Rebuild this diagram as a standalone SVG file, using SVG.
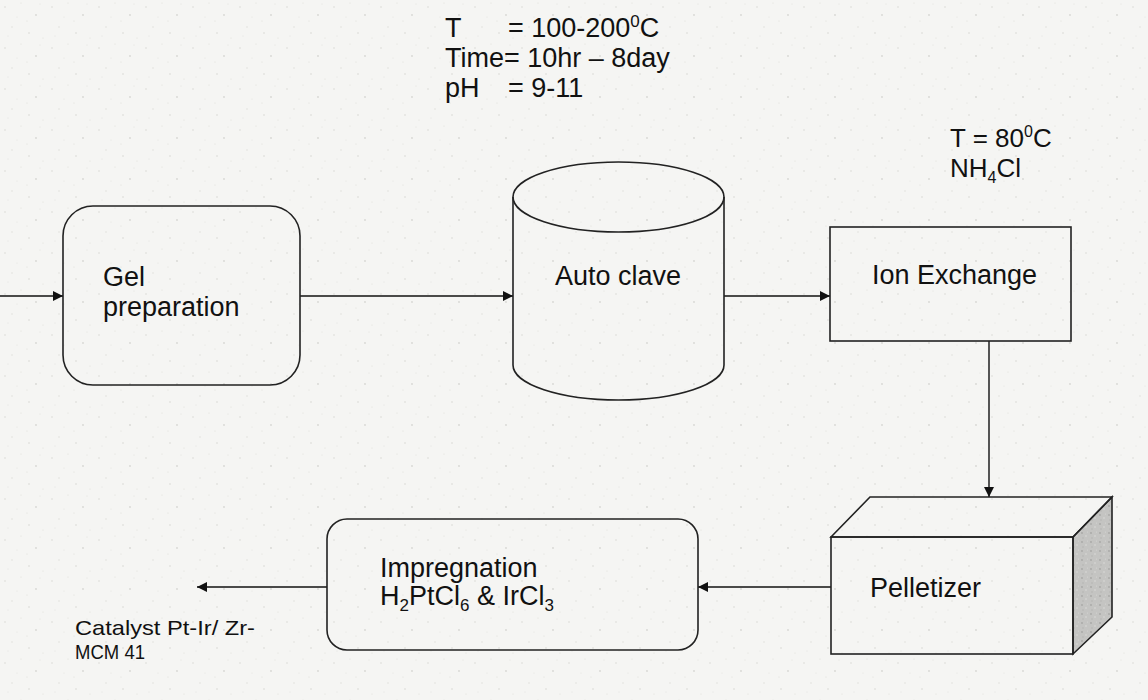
<svg xmlns="http://www.w3.org/2000/svg" width="1148" height="700" viewBox="0 0 1148 700">
  <defs>
    <pattern id="speck" width="47" height="41" patternUnits="userSpaceOnUse">
      <rect width="47" height="41" fill="#f5f5f3"/>
      <circle cx="5" cy="7" r="0.8" fill="#dadad6"/>
      <circle cx="21" cy="3" r="0.6" fill="#e0e0dc"/>
      <circle cx="36" cy="15" r="0.9" fill="#d8d8d4"/>
      <circle cx="12" cy="27" r="0.7" fill="#dcdcd8"/>
      <circle cx="29" cy="33" r="0.8" fill="#d9d9d5"/>
      <circle cx="43" cy="38" r="0.6" fill="#e0e0dc"/>
      <circle cx="17" cy="17" r="0.5" fill="#e2e2de"/>
      <circle cx="40" cy="4" r="0.5" fill="#dededa"/>
      <circle cx="8" cy="36" r="0.5" fill="#e1e1dd"/>
      <circle cx="27" cy="21" r="0.6" fill="#dfdfdb"/>
    </pattern>
    <pattern id="grayspeck" width="9" height="9" patternUnits="userSpaceOnUse">
      <rect width="9" height="9" fill="#c4c4c2"/>
      <circle cx="2" cy="2" r="0.9" fill="#a8a8a6"/>
      <circle cx="6" cy="5" r="0.8" fill="#dcdcda"/>
      <circle cx="3" cy="7" r="0.7" fill="#b0b0ae"/>
      <circle cx="7.5" cy="1" r="0.6" fill="#d6d6d4"/>
    </pattern>
    <marker id="arr" viewBox="0 0 10 10" refX="10" refY="5" markerWidth="10" markerHeight="10" markerUnits="userSpaceOnUse" orient="auto">
      <path d="M0,0 L10,5 L0,10 Z" fill="#111"/>
    </marker>
    <style>
      .shape { fill: none; stroke: #222; stroke-width: 1.6; }
      .conn { fill: none; stroke: #111; stroke-width: 1.4; marker-end: url(#arr); }
      .lbl { font-family: "Liberation Sans", Arial, sans-serif; font-size: 27px; fill: #111; }
      .small { font-family: "Liberation Sans", Arial, sans-serif; font-size: 21px; fill: #111; }
    </style>
  </defs>

  <rect width="1148" height="700" fill="url(#speck)"/>

  <g id="conditions-autoclave">
    <text class="lbl" x="445" y="37">T</text>
    <text class="lbl" x="508" y="37">= 100-200<tspan font-size="17" dy="-10">0</tspan><tspan dy="10">C</tspan></text>
    <text class="lbl" x="445" y="67">Time= 10hr – 8day</text>
    <text class="lbl" x="445" y="97">pH</text>
    <text class="lbl" x="508" y="97">= 9-11</text>
  </g>

  <g id="conditions-ion">
    <text class="lbl" x="950" y="147" style="font-size:26px">T = 80<tspan font-size="16" dy="-10">0</tspan><tspan dy="10">C</tspan></text>
    <text class="lbl" x="950" y="177" style="font-size:26px">NH<tspan font-size="16" dy="6">4</tspan><tspan dy="-6">Cl</tspan></text>
  </g>

  <g id="connectors">
    <line class="conn" x1="0" y1="296" x2="63" y2="296"/>
    <line class="conn" x1="300" y1="296" x2="513" y2="296"/>
    <line class="conn" x1="724" y1="296" x2="830" y2="296"/>
    <line class="conn" x1="989" y1="341" x2="989" y2="497"/>
    <line class="conn" x1="831" y1="587" x2="698" y2="587"/>
    <line class="conn" x1="327" y1="587" x2="197" y2="587"/>
  </g>

  <g id="gel-preparation">
    <rect class="shape" x="63" y="206" width="237" height="179" rx="30" ry="30"/>
    <text class="lbl" x="103" y="286">Gel</text>
    <text class="lbl" x="103" y="316">preparation</text>
  </g>

  <g id="autoclave">
    <path class="shape" d="M513,197 L513,365 A105.5,35 0 0 0 724,365 L724,197"/>
    <ellipse class="shape" cx="618.5" cy="197" rx="105.5" ry="35"/>
    <text class="lbl" x="555" y="285">Auto clave</text>
  </g>

  <g id="ion-exchange">
    <rect class="shape" x="830" y="227" width="241" height="114"/>
    <text class="lbl" x="872" y="284">Ion Exchange</text>
  </g>

  <g id="pelletizer">
    <polygon points="1073,537 1112,497 1112,617 1073,654" fill="url(#grayspeck)" stroke="#222" stroke-width="1.6"/>
    <polygon class="shape" points="831,537 870,497 1112,497 1073,537"/>
    <rect class="shape" x="831" y="537" width="242" height="117"/>
    <text class="lbl" x="870" y="597">Pelletizer</text>
  </g>

  <g id="impregnation">
    <rect class="shape" x="327" y="519" width="371" height="131" rx="20" ry="20"/>
    <text class="lbl" x="380" y="577">Impregnation</text>
    <text class="lbl" x="380" y="605">H<tspan font-size="17" dy="6">2</tspan><tspan dy="-6">PtCl</tspan><tspan font-size="17" dy="6">6</tspan><tspan dy="-6"> &amp; IrCl</tspan><tspan font-size="17" dy="6">3</tspan></text>
  </g>

  <g id="catalyst">
    <text class="small" x="75" y="635" textLength="180" lengthAdjust="spacingAndGlyphs">Catalyst Pt-Ir/ Zr-</text>
    <text class="small" x="75" y="659" textLength="70" lengthAdjust="spacingAndGlyphs">MCM 41</text>
  </g>
</svg>
